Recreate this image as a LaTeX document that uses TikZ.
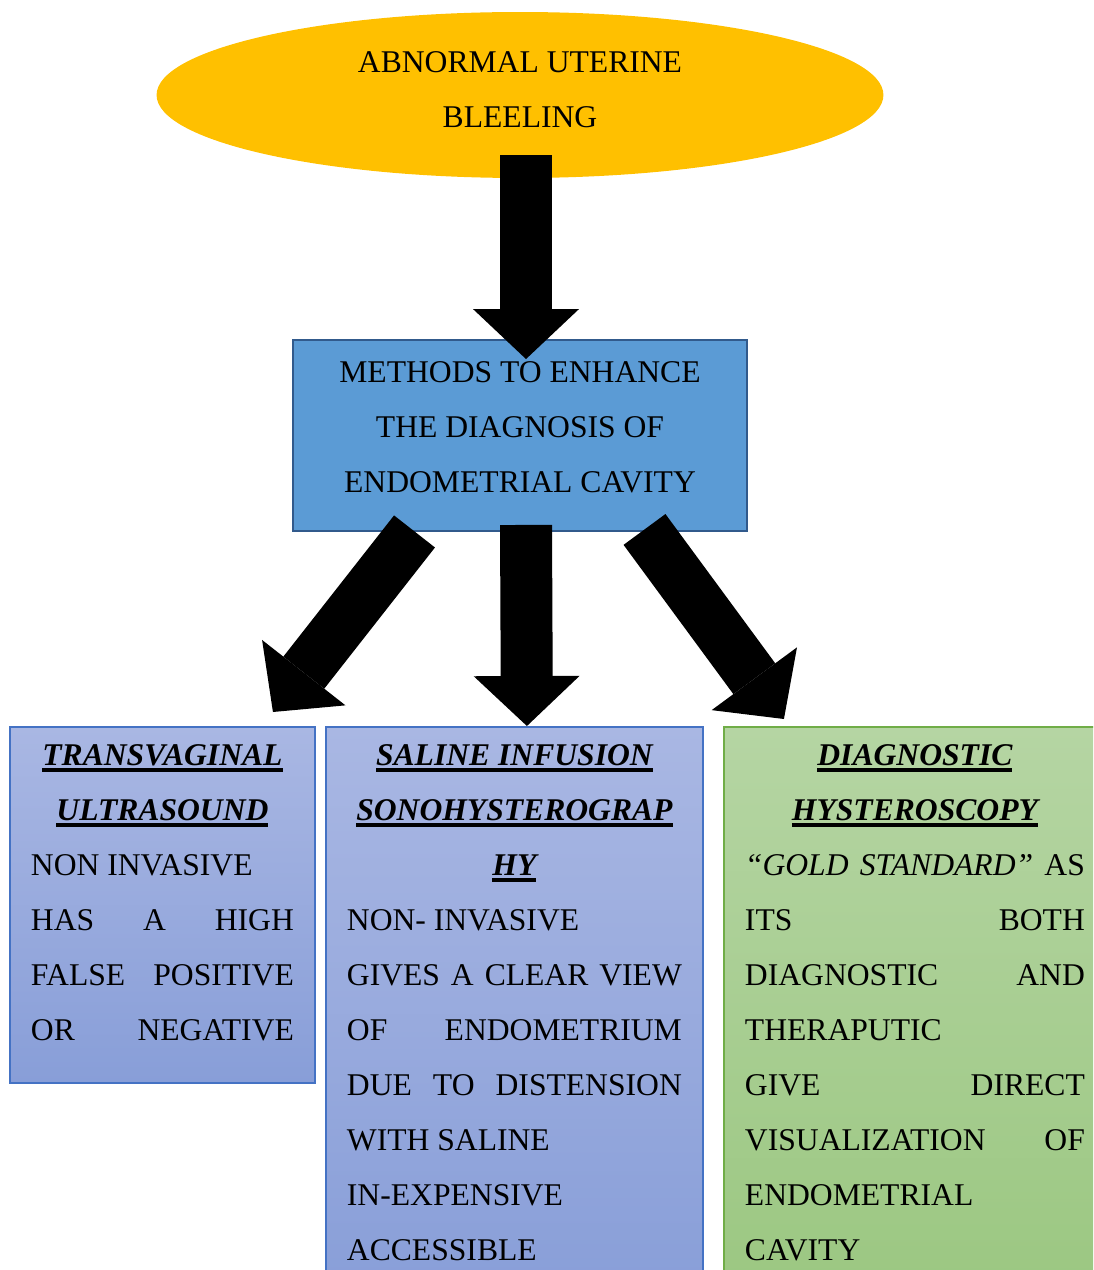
\documentclass[tikz,border=0pt]{standalone}
\usepackage{fontspec}
\setmainfont{Liberation Serif}
\usetikzlibrary{shapes.geometric,arrows.meta,calc}

\definecolor{gold}{RGB}{255,192,0}
\definecolor{midblue}{RGB}{91,155,213}
\definecolor{midedge}{RGB}{49,90,140}
\definecolor{lavtop}{RGB}{169,183,227}
\definecolor{lavbot}{RGB}{136,158,216}
\definecolor{lavedge}{RGB}{68,114,196}
\definecolor{greentop}{RGB}{181,213,163}
\definecolor{greenbot}{RGB}{155,199,129}
\definecolor{greenedge}{RGB}{112,173,71}

% bold italic title with a thick underline
\newcommand{\methodtitle}[1]{\setbox0=\hbox{\bfseries\itshape #1}\rlap{\rule[-0.14cm]{\wd0}{0.08cm}}\box0}
\newcommand{\spread}[1]{\makebox[\linewidth][s]{#1}}
\newcommand{\centred}[1]{\makebox[\linewidth]{#1}}

\begin{document}
\begin{tikzpicture}[x=0.02cm,y=-0.02cm,
    bigarrow/.style={line width=1.04cm,-{Triangle[width=2.12cm,length=1cm,line width=0pt]}},
    txt/.style={font=\fontsize{18}{31.3}\selectfont},
    optionbox/.style={txt,draw,line width=1.1pt,anchor=north west,inner xsep=0.42cm,inner ysep=0pt}]
    \clip (0,0) rectangle (1093,1270);
    \useasboundingbox (0,0) rectangle (1093,1270);

    \node[ellipse,fill=gold,minimum width=14.54cm,minimum height=3.32cm,inner sep=0pt,txt,align=center] (aub) at (520,95) {ABNORMAL UTERINE\\BLEELING\rule[-0.2cm]{0pt}{0pt}};
    \node[rectangle,fill=midblue,draw=midedge,line width=1.1pt,minimum width=9.08cm,minimum height=3.82cm,txt,align=center] (mth) at (520,435.5) {METHODS TO ENHANCE\\THE DIAGNOSIS OF\\ENDOMETRIAL CAVITY\strut};

    \node[optionbox,top color=lavtop,bottom color=lavbot,draw=lavedge] (tvu) at (9,726) {\parbox[c][7.12cm][t]{5.26cm}{\strut\centred{\methodtitle{TRANSVAGINAL}}\\
        \centred{\methodtitle{ULTRASOUND}}\\
        NON INVASIVE\\
        \spread{HAS A HIGH}\\
        \spread{FALSE POSITIVE}\\
        \spread{OR NEGATIVE}}};
    \node[optionbox,top color=lavtop,bottom color=lavbot,draw=lavedge] (sal) at (325,726) {\parbox[c][11.48cm][t]{6.7cm}{\strut\centred{\methodtitle{SALINE INFUSION}}\\
        \centred{\methodtitle{SONOHYSTEROGRAP}}\\
        \centred{\methodtitle{HY}}\\
        NON- INVASIVE\\
        \spread{GIVES A CLEAR VIEW}\\
        \spread{OF ENDOMETRIUM}\\
        \spread{DUE TO DISTENSION}\\
        WITH SALINE\\
        IN-EXPENSIVE\\
        ACCESSIBLE}};
    \node[optionbox,top color=greentop,bottom color=greenbot,draw=greenedge] (dhy) at (723,726) {\parbox[c][11.48cm][t]{6.8cm}{\strut\centred{\methodtitle{DIAGNOSTIC}}\\
        \centred{\methodtitle{HYSTEROSCOPY}}\\
        \spread{\textit{“GOLD STANDARD”} AS}\\
        \spread{ITS BOTH}\\
        \spread{DIAGNOSTIC AND}\\
        THERAPUTIC\\
        \spread{GIVE DIRECT}\\
        \spread{VISUALIZATION OF}\\
        ENDOMETRIAL\\
        CAVITY}};

    % block arrows
    \draw[bigarrow] ($(aub.south)+(6,-23)$) -- ($(mth.north)+(6,20)$);
    \draw[bigarrow] ($(mth.south)+(-105.5,-0.5)$) -- ($(tvu.north)+(110.5,-14)$);
    \draw[bigarrow] ($(mth.south)+(6,-7)$) -- ($(sal.north)+(12.5,0)$);
    \draw[bigarrow] ($(mth.south)+(124.5,-2.5)$) -- ($(dhy.north)+(-131,-7)$);
\end{tikzpicture}
\end{document}
